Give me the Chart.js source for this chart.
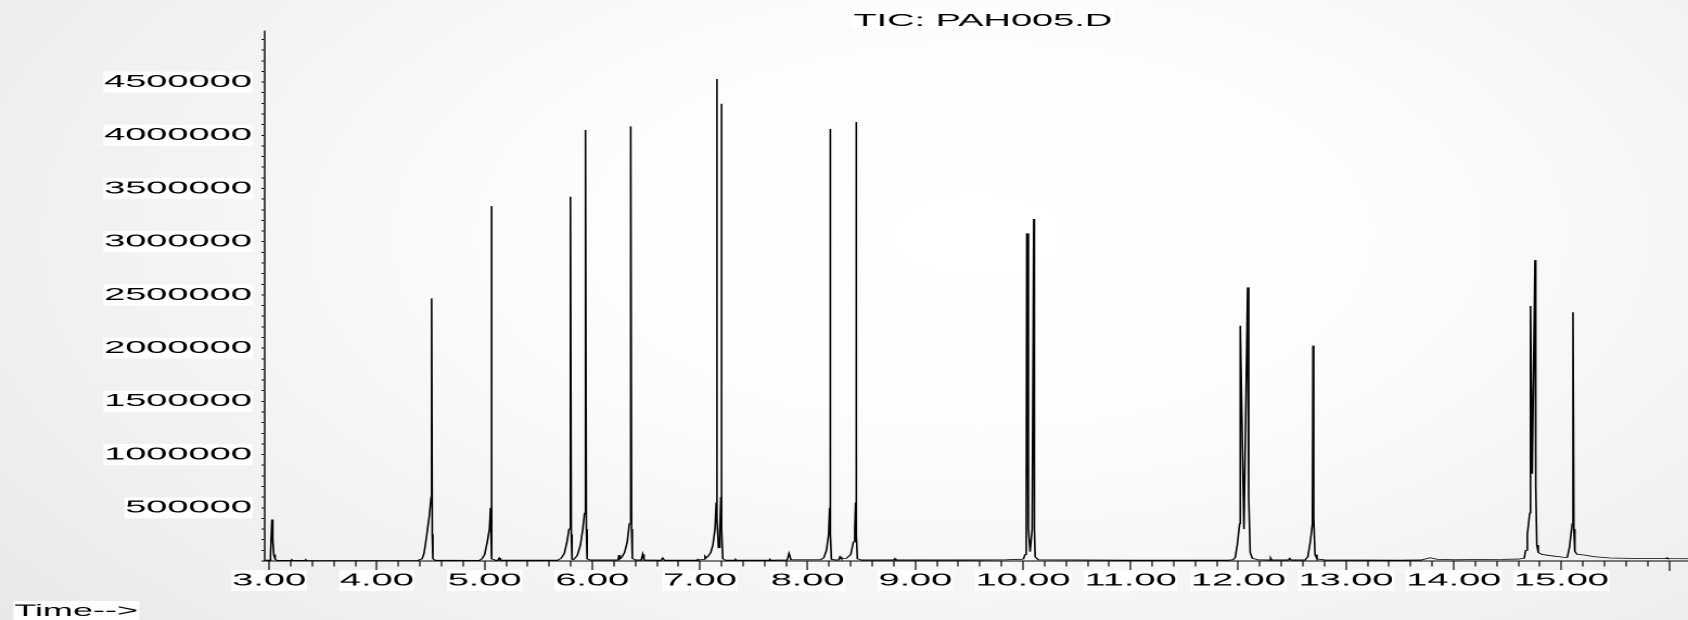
<!DOCTYPE html>
<html><head><meta charset="utf-8">
<script src="https://cdn.jsdelivr.net/npm/chart.js@4.4.1/dist/chart.umd.min.js"></script>
<style>
html,body{margin:0;padding:0;width:1688px;height:620px;overflow:hidden;}
body{background:radial-gradient(ellipse 75% 100% at 58% 38%, #ffffff 0%, #fdfdfd 30%, #f3f3f3 65%, #e8e8e8 100%);}
#wrap{position:absolute;left:0;top:0;width:778px;height:620px;transform:scaleX(2.169666);transform-origin:0 0;}
</style></head>
<body><div id="wrap"><canvas id="c" width="778" height="620"></canvas></div>
<script>
// ---- data (retention time in minutes, abundance) ----
const times = [
2.965, 3.005, 3.012, 3.025, 3.033, 3.042, 3.055, 3.075,
3.20, 3.21, 3.22, 3.33, 3.34, 3.35,
4.00, 4.38,
4.42, 4.438, 4.461, 4.486, 4.503, 4.508, 4.514, 4.52, 4.54,
4.95, 4.975, 5.00, 5.025, 5.045, 5.055, 5.059, 5.065, 5.072, 5.10, 5.125, 5.136, 5.148,
5.68, 5.71, 5.74, 5.765, 5.784, 5.795, 5.799, 5.805, 5.812,
5.825, 5.86, 5.89, 5.912, 5.928, 5.935, 5.939, 5.945, 5.952, 5.98,
6.24, 6.248, 6.257,
6.27, 6.30, 6.325, 6.344, 6.355, 6.359, 6.365, 6.372, 6.40,
6.455, 6.468, 6.48,
6.64, 6.654, 6.67,
6.97, 6.98, 6.99,
7.03, 7.047, 7.06,
7.08, 7.10, 7.12, 7.14, 7.151, 7.155, 7.161, 7.172, 7.185, 7.194, 7.198, 7.204, 7.212, 7.24,
7.32, 7.33, 7.34,
7.64, 7.65, 7.66,
7.81, 7.827, 7.845,
8.12, 8.15, 8.175, 8.195, 8.204, 8.208, 8.214, 8.221, 8.26,
8.29, 8.30, 8.315,
8.36, 8.40, 8.425, 8.438, 8.445, 8.449, 8.455, 8.462, 8.50,
8.80, 8.81, 8.82,
9.50, 9.85, 9.95, 9.985,
10.005, 10.018, 10.030, 10.035, 10.05, 10.066, 10.085, 10.10, 10.106, 10.113, 10.14,
11.00, 11.90,
11.95, 11.97, 11.99, 12.012, 12.018, 12.052, 12.086, 12.096, 12.11, 12.13, 12.18,
12.29, 12.30, 12.31,
12.465, 12.477, 12.49,
12.62, 12.645, 12.668, 12.688, 12.693, 12.70, 12.712, 12.73, 12.80,
13.50, 13.70, 13.78, 13.85, 14.00, 14.45, 14.60,
14.655, 14.668, 14.684, 14.706, 14.713, 14.729, 14.755, 14.762, 14.772, 14.785, 14.82, 14.90, 14.98, 15.045,
15.055, 15.075, 15.101, 15.108, 15.116, 15.125, 15.145, 15.22, 15.30, 15.45, 15.80, 15.97, 15.98, 15.99, 16.20
];
const signal = [
8000, 8000, 60000, 390000, 200000, 60000, 15000, 6000,
6000, 12000, 6000, 6000, 12000, 5000,
5000, 6000,
20000, 75000, 230000, 420000, 600000, 2468000, 250000, 20000, 8000,
6000, 20000, 60000, 180000, 300000, 500000, 3335000, 300000, 20000, 8000, 8000, 28000, 8000,
8000, 25000, 70000, 180000, 300000, 500000, 3422000, 250000, 15000,
12000, 50000, 150000, 300000, 450000, 650000, 4050000, 300000, 20000, 10000,
10000, 56000, 20000,
30000, 80000, 180000, 350000, 600000, 4084000, 300000, 25000, 10000,
10000, 63000, 10000,
8000, 28000, 8000,
8000, 15000, 10000,
15000, 45000, 30000,
50000, 80000, 150000, 300000, 550000, 4529000, 400000, 125000, 300000, 600000, 4296000, 300000, 20000, 8000,
8000, 16000, 8000,
8000, 16000, 8000,
10000, 72000, 12000,
12000, 30000, 100000, 250000, 500000, 4059000, 250000, 15000, 10000,
12000, 40000, 20000,
25000, 60000, 180000, 300000, 550000, 4125000, 250000, 20000, 10000,
10000, 22000, 10000,
10000, 12000, 16000, 15000,
20000, 60000, 400000, 3079000, 300000, 87000, 300000, 3213000, 300000, 40000, 12000,
8000, 8000,
12000, 30000, 150000, 350000, 2210000, 300000, 2571000, 600000, 80000, 25000, 12000,
10000, 28000, 10000,
10000, 25000, 10000,
10000, 40000, 180000, 350000, 2024000, 400000, 60000, 20000, 10000,
8000, 10000, 30000, 15000, 12000, 15000, 18000,
25000, 100000, 250000, 450000, 2396000, 820000, 2827000, 700000, 150000, 80000, 62000, 50000, 40000, 32000,
35000, 130000, 350000, 2337000, 300000, 90000, 63000, 55000, 41000, 28000, 22000, 22000, 30000, 22000, 21000
];
const xTickLabels = ['3.00','4.00','5.00','6.00','7.00','8.00','9.00','10.00','11.00','12.00','13.00','14.00','15.00'];
const yTickLabels = ['500000','1000000','1500000','2000000','2500000','3000000','3500000','4000000','4500000'];
const TITLE = 'TIC: PAH005.D';
const X_LABEL = 'Time-->';

// ---- layout / style ----
const X_MIN = 2.96, X_MAX = 16.176, Y_MIN = 0, Y_MAX = 4980000, Y_MINOR = 100000;
const FONT = '"Liberation Sans", Arial, sans-serif';
const FSIZE = 17.5;
const isMajorX = v => Math.abs(Number(v) - Math.round(Number(v))) < 1e-6;
const xLabelFor = v => { const n = Number(v); const s = (Math.round(n * 100) / 100).toFixed(2); return isMajorX(n) && xTickLabels.indexOf(s) >= 0 ? s : ''; };
const yLabelFor = v => { const s = String(Math.round(Number(v))); return yTickLabels.indexOf(s) >= 0 ? s : ''; };

const textPlugin = {
  id: 'texts',
  afterDraw(chart) {
    const ctx = chart.ctx;
    ctx.save();
    ctx.textBaseline = 'alphabetic';
    ctx.font = `${FSIZE}px ${FONT}`;
    const tx = 453;
    let w = ctx.measureText(TITLE).width;
    ctx.fillStyle = '#ffffff';
    ctx.fillRect(tx - w / 2 - 1, 8.5, w + 2, 20);
    ctx.fillStyle = '#000000';
    ctx.textAlign = 'center';
    ctx.fillText(TITLE, tx, 25.8);
    ctx.font = `16.6px ${FONT}`;
    w = ctx.measureText(X_LABEL).width;
    ctx.fillStyle = '#ffffff';
    ctx.fillRect(6.2, 601, w + 1, 19);
    ctx.fillStyle = '#000000';
    ctx.textAlign = 'left';
    ctx.fillText(X_LABEL, 6.6, 616);
    ctx.restore();
  }
};

new Chart(document.getElementById('c'), {
  type: 'line',
  data: {
    datasets: [{
      data: times.map((t, i) => ({ x: t, y: signal[i] })),
      borderColor: '#000000',
      borderWidth: 0.8,
      pointRadius: 0,
      tension: 0,
      fill: false
    }]
  },
  options: {
    responsive: false,
    animation: false,
    devicePixelRatio: 2,
    events: [],
    layout: { padding: { top: 31, left: 0, right: 0, bottom: 0 } },
    plugins: { legend: { display: false }, tooltip: { enabled: false }, title: { display: false } },
    scales: {
      x: {
        type: 'linear', min: X_MIN, max: X_MAX,
        afterFit(s) { s.height = 59; },
        border: { display: true, color: '#000000', width: 1 },
        grid: {
          drawOnChartArea: false, drawTicks: true, tickLength: 10, tickColor: '#000000', tickWidth: 0.6,
          tickBorderDash: ctx => (ctx.tick && isMajorX(ctx.tick.value)) ? [] : [5, 100]
        },
        ticks: {
          stepSize: 0.2, includeBounds: false, autoSkip: false, maxTicksLimit: 1000, maxRotation: 0, minRotation: 0,
          padding: -1, color: '#000000', font: { family: FONT, size: FSIZE },
          callback: v => xLabelFor(v),
          showLabelBackdrop: true,
          backdropColor: ctx => (ctx.tick && xLabelFor(ctx.tick.value)) ? '#ffffff' : 'rgba(0,0,0,0)',
          backdropPadding: { x: 0.3, y: 0 }
        }
      },
      y: {
        type: 'linear', min: Y_MIN, max: Y_MAX,
        afterFit(s) { s.width = 122.1; },
        afterBuildTicks(s) {
          const t = [];
          for (let v = Y_MIN; v <= Y_MAX; v += Y_MINOR) t.push({ value: v });
          s.ticks = t;
        },
        border: { display: true, color: '#000000', width: 0.7 },
        grid: { drawOnChartArea: false, drawTicks: true, tickLength: 1.6, tickColor: '#000000', tickWidth: 1 },
        ticks: {
          autoSkip: false, maxTicksLimit: 1000,
          padding: 4.4, color: '#000000', font: { family: FONT, size: FSIZE },
          callback: v => yLabelFor(v),
          showLabelBackdrop: true,
          backdropColor: ctx => (ctx.tick && yLabelFor(ctx.tick.value)) ? '#ffffff' : 'rgba(0,0,0,0)',
          backdropPadding: { x: 0.3, y: 0 }
        }
      }
    }
  },
  plugins: [textPlugin]
});
</script>
</body></html>
